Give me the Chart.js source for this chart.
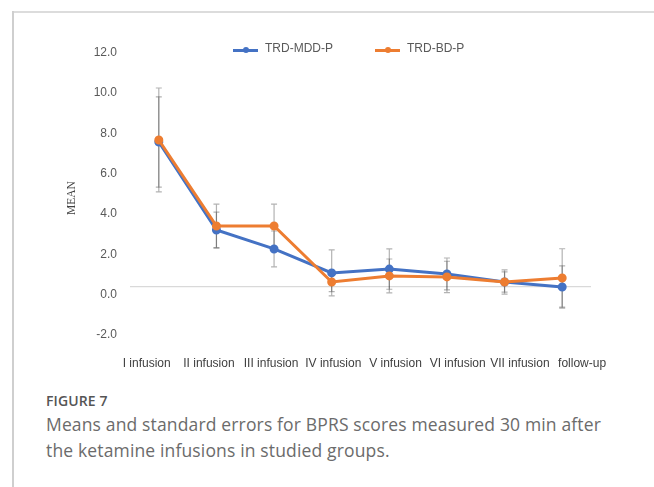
<!DOCTYPE html>
<html>
<head>
<meta charset="utf-8">
<script src="https://cdn.jsdelivr.net/npm/chart.js@4/dist/chart.umd.min.js"></script>
<style>
  html, body { margin: 0; padding: 0; background: #fff; }
  #wrap { position: relative; width: 654px; height: 487px; background: #fff; overflow: hidden; }
  #frameLeft { position: absolute; left: 12px; top: 11px; width: 1.5px; height: 480px; background: #cfcfcf; }
  #frameTop { position: absolute; left: 12px; top: 11px; width: 642px; height: 1.5px; background: #dcdcdc; }
  #chart { position: absolute; left: 0; top: 0; }
  .lg-sym { position: absolute; height: 3px; }
  .lg-dot { position: absolute; width: 6px; height: 6px; border-radius: 50%; top: -1.5px; }
  .lg-txt { position: absolute; font: 12px "Liberation Sans", Arial, sans-serif; color: #595959; line-height: 14px; white-space: nowrap; }
  #figlabel { position: absolute; left: 46px; top: 391px; font: 600 14px "Open Sans", sans-serif; line-height: 20px; color: #555; letter-spacing: 0.1px; }
  #caption { position: absolute; left: 46px; top: 411px; font: 400 17.5px "Open Sans", sans-serif; line-height: 26px; color: #6b6b6b; width: 608px; letter-spacing: 0.15px; white-space: nowrap; }
</style>
</head>
<body>
<div id="wrap">
  <div id="frameTop"></div>
  <div id="frameLeft"></div>
  <canvas id="chart" width="654" height="380"></canvas>
  <div id="legend"></div>
  <div id="figlabel">FIGURE 7</div>
  <div id="caption">Means and standard errors for BPRS scores measured 30 min after<br>the ketamine infusions in studied groups.</div>
</div>
<script>
// ---- data ----
const categories = ['I infusion', 'II infusion', 'III infusion', 'IV infusion', 'V infusion', 'VI infusion', 'VII infusion', 'follow-up'];
const seriesNames = ['TRD-MDD-P', 'TRD-BD-P'];
const mddMean = [7.20, 2.83, 1.89, 0.70, 0.89, 0.65, 0.25, 0.00];
const mddSE   = [2.24, 0.89, 0.89, 1.14, 1.00, 0.79, 0.50, 1.05];
const bdMean  = [7.30, 3.03, 3.03, 0.25, 0.55, 0.50, 0.25, 0.45];
const bdSE    = [2.58, 1.09, 1.09, 0.48, 0.84, 0.78, 0.60, 1.45];
const yTickValues = [-2, 0, 2, 4, 6, 8, 10, 12];
const yTitle = 'MEAN';

const colors = ['#4472C4', '#ED7D31'];

// ---- legend (HTML) ----
(function buildLegend() {
  const lg = document.getElementById('legend');
  const symLeft = [233, 375];
  const txtLeft = [265, 407];
  seriesNames.forEach((name, i) => {
    const sym = document.createElement('div');
    sym.className = 'lg-sym';
    sym.style.left = symLeft[i] + 'px';
    sym.style.top = '48.5px';
    sym.style.width = '25px';
    sym.style.background = colors[i];
    const dot = document.createElement('div');
    dot.className = 'lg-dot';
    dot.style.left = '9.5px';
    dot.style.background = colors[i];
    sym.appendChild(dot);
    lg.appendChild(sym);
    const t = document.createElement('div');
    t.className = 'lg-txt';
    t.style.left = txtLeft[i] + 'px';
    t.style.top = '41px';
    t.textContent = name;
    lg.appendChild(t);
  });
})();

// ---- error bars plugin ----
const errorBars = {
  id: 'errorBars',
  beforeDatasetsDraw(chart) {
    const ctx = chart.ctx;
    const yS = chart.scales.y;
    ctx.save();
    ctx.strokeStyle = 'rgba(0,0,0,0.30)';
    ctx.lineWidth = 1.2;
    chart.data.datasets.forEach((ds, d) => {
      const meta = chart.getDatasetMeta(d);
      ds.data.forEach((m, i) => {
        const e = ds.errors[i];
        const pt = meta.data[i];
        if (!pt) return;
        const x = pt.x;
        const yTop = yS.getPixelForValue(m + e);
        const yBot = yS.getPixelForValue(m - e);
        ctx.beginPath();
        ctx.moveTo(x, yTop); ctx.lineTo(x, yBot);
        ctx.moveTo(x - 3, yTop); ctx.lineTo(x + 3, yTop);
        ctx.moveTo(x - 3, yBot); ctx.lineTo(x + 3, yBot);
        ctx.stroke();
      });
    });
    ctx.restore();
  }
};

// ---- y axis title plugin ----
const yTitlePlugin = {
  id: 'yTitlePlugin',
  afterDraw(chart) {
    const ctx = chart.ctx;
    ctx.save();
    ctx.translate(71.5, 198);
    ctx.rotate(-Math.PI / 2);
    ctx.font = '11.5px "Liberation Serif", "Times New Roman", serif';
    ctx.fillStyle = '#404040';
    ctx.textAlign = 'center';
    ctx.textBaseline = 'middle';
    ctx.fillText(yTitle, 0, 0);
    ctx.restore();
  }
};

const CHART_H = 380;
const AREA_TOP = 45.3, AREA_BOTTOM = 327.3, AREA_LEFT = 130, AREA_RIGHT = 591;

new Chart(document.getElementById('chart'), {
  type: 'line',
  data: {
    labels: categories,
    datasets: [
      {
        label: seriesNames[0], data: mddMean, errors: mddSE,
        borderColor: colors[0], backgroundColor: colors[0],
        pointBackgroundColor: colors[0], pointBorderColor: colors[0],
        borderWidth: 3, pointRadius: 3, pointHoverRadius: 3, tension: 0, order: 1
      },
      {
        label: seriesNames[1], data: bdMean, errors: bdSE,
        borderColor: colors[1], backgroundColor: colors[1],
        pointBackgroundColor: colors[1], pointBorderColor: colors[1],
        borderWidth: 3, pointRadius: 3, pointHoverRadius: 3, tension: 0, order: 0
      }
    ]
  },
  options: {
    responsive: false,
    animation: false,
    devicePixelRatio: 1,
    layout: { padding: { left: 0, right: 654 - AREA_RIGHT, top: AREA_TOP, bottom: 0 } },
    plugins: { legend: { display: false }, tooltip: { enabled: false } },
    scales: {
      x: {
        type: 'category',
        display: false,
        offset: true
      },
      xl: {
        type: 'linear',
        position: 'bottom',
        min: -0.2685,
        max: 7.143,
        grid: { display: false, drawTicks: false },
        border: { display: false },
        afterBuildTicks: (axis) => { axis.ticks = categories.map((c, i) => ({ value: i })); },
        afterFit: (axis) => { axis.height = CHART_H - AREA_BOTTOM; },
        ticks: {
          autoSkip: false, maxRotation: 0, minRotation: 0, padding: 29.5,
          color: '#404040',
          font: { family: '"Liberation Sans", Arial, sans-serif', size: 12 },
          callback: (v) => categories[Math.round(v)]
        }
      },
      y: {
        min: -2, max: 12,
        afterBuildTicks: (axis) => { axis.ticks = yTickValues.map(v => ({ value: v })); },
        afterFit: (axis) => { axis.width = AREA_LEFT; },
        grid: {
          drawTicks: false,
          color: (c) => (c.tick && c.tick.value === 0) ? '#d9d9d9' : 'rgba(0,0,0,0)',
          lineWidth: 1.2
        },
        border: { display: false },
        ticks: {
          padding: 13,
          labelOffset: 7.5,
          color: '#595959',
          font: { family: '"Liberation Sans", Arial, sans-serif', size: 12 },
          callback: (v) => Number(v).toFixed(1)
        }
      }
    }
  },
  plugins: [errorBars, yTitlePlugin]
});
</script>
</body>
</html>
